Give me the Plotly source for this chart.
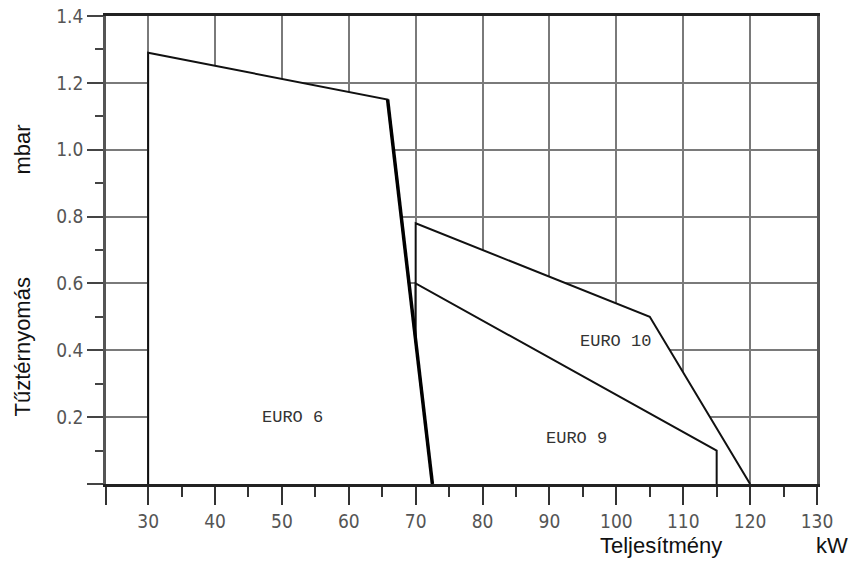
import plotly.graph_objects as go

# ---- data ----
euro6_kw = [30, 30, 65.8, 72.5]
euro6_mbar = [0, 1.29, 1.15, 0]
euro10_kw = [70, 70, 105, 120]
euro10_mbar = [0, 0.78, 0.5, 0]
euro9_kw = [70, 70, 115, 115]
euro9_mbar = [0, 0.6, 0.1, 0]

x_axis_start = 23.7
x_ticks = [30, 40, 50, 60, 70, 80, 90, 100, 110, 120, 130]
x_tick_labels = ["30", "40", "50", "60", "70", "80", "90", "100", "110", "120", "130"]
x_minor = [35, 45, 55, 65, 75, 85, 95, 105, 115, 125]
y_ticks = [0.2, 0.4, 0.6, 0.8, 1.0, 1.2, 1.4]
y_tick_labels = ["0.2", "0.4", "0.6", "0.8", "1.0", "1.2", "1.4"]
y_minor = [0.1, 0.3, 0.5, 0.7, 0.9, 1.1, 1.3]

labels = ["EURO 6", "EURO 10", "EURO 9"]
label_kw = [51.6, 99.8, 94.1]
label_mbar = [0.198, 0.425, 0.135]

tick_font = dict(family="DejaVu Sans Condensed, Liberation Sans Narrow, Roboto Condensed, sans-serif",
                 size=19, color="#555")
title_font = dict(family="Liberation Sans, Arial, sans-serif", size=22, color="#111")

fig = go.Figure()

def poly(xs, ys, width=2):
    fig.add_trace(go.Scatter(x=xs, y=ys, mode="lines", fill="toself", fillcolor="white",
                             line=dict(color="#111", width=width), hoverinfo="skip",
                             showlegend=False))

poly(euro10_kw, euro10_mbar)
poly(euro9_kw, euro9_mbar)
poly(euro6_kw, euro6_mbar)
# thicker right edge of EURO 6
fig.add_trace(go.Scatter(x=euro6_kw[2:], y=euro6_mbar[2:], mode="lines",
                         line=dict(color="#000", width=3.5), hoverinfo="skip", showlegend=False))

for t, xv, yv in zip(labels, label_kw, label_mbar):
    fig.add_annotation(x=xv, y=yv, xref="x", yref="y", text=t, showarrow=False,
                       font=dict(family="Liberation Mono, DejaVu Sans Mono, monospace",
                                 size=17, color="#333"))

fig.update_xaxes(
    range=[x_axis_start, 130],
    automargin=False,
    tickmode="array",
    tickvals=[x_axis_start] + x_ticks,
    ticktext=[""] + x_tick_labels,
    ticks="outside", ticklen=18, tickwidth=2, tickcolor="#333",
    tickfont=tick_font,
    showgrid=True, gridcolor="#7a7a7a", gridwidth=1.5,
    showline=True, linecolor="#222", linewidth=2.5, mirror=True,
    zeroline=False,
    minor=dict(tickvals=x_minor, ticks="outside", ticklen=10, tickwidth=2,
               tickcolor="#333", showgrid=False),
)
fig.update_yaxes(
    range=[0, 1.4],
    automargin=False,
    tickmode="array",
    tickvals=[0] + y_ticks,
    ticktext=[""] + y_tick_labels,
    ticks="outside", ticklen=16, tickwidth=2, tickcolor="#444",
    tickfont=tick_font,
    showgrid=True, gridcolor="#7a7a7a", gridwidth=1.5,
    showline=True, linecolor="#555", linewidth=2.5, mirror=True,
    zeroline=False,
    minor=dict(tickvals=y_minor, ticks="outside", ticklen=8, tickwidth=2,
               tickcolor="#444", showgrid=False),
)

fig.add_annotation(x=0.7806, y=-0.1315, xref="paper", yref="paper", text="Teljesítmény",
                   showarrow=False, font=title_font, xanchor="center", yanchor="middle")
fig.add_annotation(x=1.021, y=-0.1315, xref="paper", yref="paper", text="kW",
                   showarrow=False, font=title_font, xanchor="center", yanchor="middle")
fig.add_annotation(x=-0.118, y=0.715, xref="paper", yref="paper", text="mbar",
                   showarrow=False, font=title_font, textangle=-90,
                   xanchor="center", yanchor="middle")
fig.add_annotation(x=-0.118, y=0.292, xref="paper", yref="paper", text="Tűztérnyomás",
                   showarrow=False, font=title_font, textangle=-90,
                   xanchor="center", yanchor="middle")

fig.update_layout(
    width=852, height=561,
    margin=dict(l=106, r=35, t=16, b=77, autoexpand=False),
    paper_bgcolor="white", plot_bgcolor="white",
    showlegend=False,
)

fig.write_html("out.html", config={"displayModeBar": False},
               post_script="document.body.style.margin='0';document.body.style.overflow='hidden';")
